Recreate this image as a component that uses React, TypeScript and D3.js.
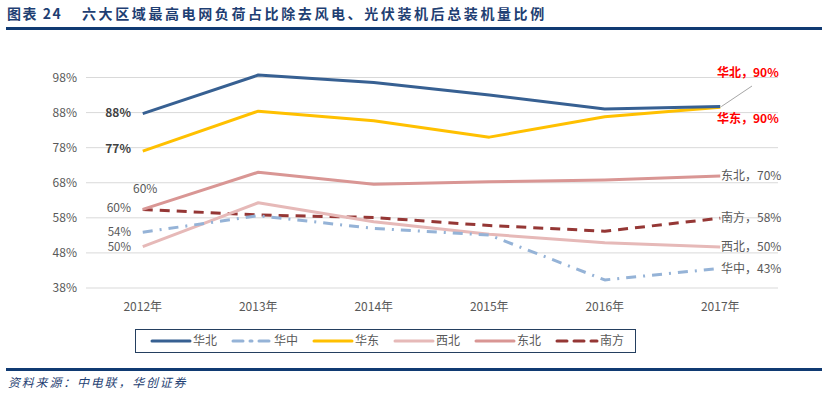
import React from "react";
import * as d3 from "d3";

const years = ["2012年", "2013年", "2014年", "2015年", "2016年", "2017年"];
const yTicks = [38, 48, 58, 68, 78, 88, 98];

const huabei = [87.7, 98.7, 96.6, 93.0, 89.0, 89.7];
const huazhong = [53.9, 58.6, 55.0, 53.1, 40.3, 43.6];
const huadong = [77.0, 88.4, 85.7, 81.0, 86.8, 89.5];
const xibei = [49.8, 62.3, 56.9, 53.3, 50.9, 49.7];
const dongbei = [60.4, 71.0, 67.6, 68.3, 68.8, 69.9];
const nanfang = [60.4, 58.8, 58.1, 55.8, 54.2, 57.9];

const seriesNames = ["华北", "华中", "华东", "西北", "东北", "南方"];
const seriesData = [huabei, huazhong, huadong, xibei, dongbei, nanfang];
const seriesColors = ["#376092", "#95B3D7", "#FFC000", "#E6B9B8", "#D99694", "#953735"];
const seriesDash = ["", "10 7 2 7", "", "", "", "10 7"];

const endLabels = ["华北，90%", "华中，43%", "华东，90%", "西北，50%", "东北，70%", "南方，58%"];

const TITLE_NO = "图表 24";
const TITLE = "六大区域最高电网负荷占比除去风电、光伏装机后总装机量比例";
const SOURCE = "资料来源：中电联，华创证券";

export default function App() {
  const W = 838, H = 397;
  const x = d3.scaleBand<string>().domain(years).range([85, 778]);
  const y = d3.scaleLinear().domain([38, 98]).range([288, 77.5]);
  const cx = (i: number) => (x(years[i]) as number) + x.bandwidth() / 2;
  const line = d3.line<number>().x((_, i) => cx(i)).y((d) => y(d));
  const font = "'Noto Sans CJK SC', 'Noto Sans', sans-serif";
  const gray = "#595959";

  const lastX = cx(5);
  const endY: Record<string, number> = {
    "华北，90%": 73,
    "华东，90%": 119,
    "东北，70%": 176,
    "南方，58%": 218,
    "西北，50%": 247,
    "华中，43%": 269,
  };

  const legendItems = [
    { lx: 152, tx: 190 },
    { lx: 233, tx: 271 },
    { lx: 314, tx: 352 },
    { lx: 395, tx: 433 },
    { lx: 476, tx: 514 },
    { lx: 557, tx: 597 },
  ];

  return (
    <svg width={W} height={H} style={{ position: "absolute", left: 0, top: 0, background: "#fff" }}>
      <rect x={0} y={0} width={W} height={H} fill="#fff" />
      <text x={7} y={14} dy="0.35em" fontFamily={font} fontWeight="bold" fontSize={14} letterSpacing={1.5} fill="#1F3F73">
        {TITLE_NO}
      </text>
      <text x={82} y={14} dy="0.35em" fontFamily={font} fontWeight="bold" fontSize={14} letterSpacing={2.6} fill="#1F3F73">
        {TITLE}
      </text>
      <rect x={6} y={27} width={816} height={3} fill="#103A72" />

      {yTicks.map((t) => (
        <g key={t}>
          <line x1={86} x2={778} y1={y(t)} y2={y(t)} stroke="#D9D9D9" strokeWidth={1} />
          <text x={77} y={y(t)} dy="0.35em" textAnchor="end" fontFamily={font} fontSize={12} fill={gray}>
            {t}%
          </text>
        </g>
      ))}

      {years.map((yr, i) => (
        <text key={yr} x={cx(i)} y={307} dy="0.35em" textAnchor="middle" fontFamily={font} fontSize={12} fill={gray}>
          {yr}
        </text>
      ))}

      {seriesData.map((d, k) => (
        <path
          key={seriesNames[k]}
          d={line(d) || ""}
          fill="none"
          stroke={seriesColors[k]}
          strokeWidth={3}
          strokeDasharray={seriesDash[k] || undefined}
          strokeLinejoin="round"
        />
      )).reverse()}

      {/* start labels */}
      <text x={131} y={113} dy="0.35em" textAnchor="end" fontFamily={font} fontWeight="bold" fontSize={12} fill="#404040">88%</text>
      <text x={131} y={149} dy="0.35em" textAnchor="end" fontFamily={font} fontWeight="bold" fontSize={12} fill="#404040">77%</text>
      <text x={133} y={189} dy="0.35em" textAnchor="start" fontFamily={font} fontSize={12} fill={gray}>60%</text>
      <text x={131} y={208} dy="0.35em" textAnchor="end" fontFamily={font} fontSize={12} fill={gray}>60%</text>
      <text x={131} y={231.5} dy="0.35em" textAnchor="end" fontFamily={font} fontSize={11.5} fill={gray}>54%</text>
      <text x={131} y={246.5} dy="0.35em" textAnchor="end" fontFamily={font} fontSize={11.5} fill={gray}>50%</text>

      {/* end labels */}
      <line x1={lastX + 1} y1={y(huabei[5])} x2={752} y2={86} stroke="#A6A6A6" strokeWidth={1} />
      {endLabels.map((lab, k) => {
        const red = k === 0 || k === 2;
        return (
          <text
            key={lab}
            x={red ? 717 : 721}
            y={endY[lab]}
            dy="0.35em"
            fontFamily={font}
            fontWeight={red ? "bold" : "normal"}
            fontSize={12}
            fill={red ? "#FF0000" : gray}
          >
            {lab}
          </text>
        );
      })}

      {/* legend */}
      <rect x={135.5} y={329.5} width={500} height={23} fill="none" stroke="#243F60" strokeWidth={1} />
      {seriesNames.map((n, k) => (
        <g key={n}>
          <line
            x1={legendItems[k].lx}
            x2={legendItems[k].tx}
            y1={341}
            y2={341}
            stroke={seriesColors[k]}
            strokeWidth={3}
            strokeDasharray={seriesDash[k] || undefined}
            strokeLinecap="round"
          />
          <text x={legendItems[k].tx + 3} y={341} dy="0.35em" fontFamily={font} fontSize={12} fill={gray}>
            {n}
          </text>
        </g>
      ))}

      <rect x={6} y={368} width={816} height={3} fill="#103A72" />
      <text x={8} y={383} dy="0.35em" fontFamily={font} fontStyle="italic" fontSize={12} letterSpacing={1.8} fill="#1F3F73">
        {SOURCE}
      </text>
    </svg>
  );
}
